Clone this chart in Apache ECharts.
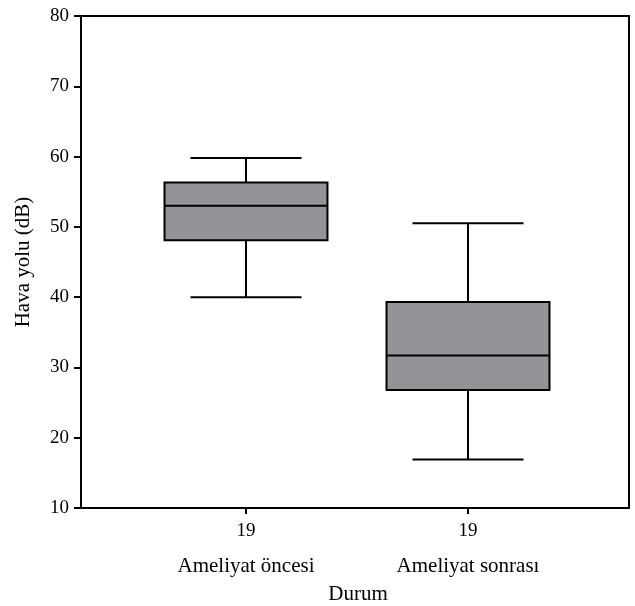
<!DOCTYPE html>
<html><head><meta charset="utf-8">
<script src="https://cdn.jsdelivr.net/npm/echarts@6/dist/echarts.min.js"></script>
<style>html,body{margin:0;padding:0;background:#fff}#c{width:635px;height:606px}</style>
</head><body><div id="c"></div>
<script>
const categories = ['Ameliyat öncesi', 'Ameliyat sonrası'];
const counts = [19, 19];
const whiskerLow = [40.0, 16.9];
const q1 = [48.1, 26.8];
const median = [53.0, 31.7];
const q3 = [56.3, 39.3];
const whiskerHigh = [59.8, 50.5];
const yTicks = {min: 10, max: 80, interval: 10};

const FONT = 'Liberation Serif';
const FS = 19;   // numbers
const FT = 21;   // words
const data = categories.map((c, i) => [i, whiskerLow[i], q1[i], median[i], q3[i], whiskerHigh[i]]);

const chart = echarts.init(document.getElementById('c'));
chart.setOption({
  animation: false,
  grid: [
    {left: 81, right: 6, top: 16, bottom: 98, show: true, borderColor: '#000', borderWidth: 2, backgroundColor: 'transparent', containLabel: false, outerBoundsMode: 'none'},
    {left: 135, width: 444, top: 16, bottom: 98, containLabel: false, outerBoundsMode: 'none'}
  ],
  xAxis: [
    {gridIndex: 0, type: 'value', min: 0, max: 1, axisLine: {show: true, lineStyle: {color: '#000', width: 2}},
     axisTick: {show: false}, axisLabel: {show: false}, splitLine: {show: false},
     name: 'Durum', nameLocation: 'middle', nameGap: 76, nameTextStyle: {fontFamily: FONT, fontSize: FT, color: '#000', padding: [0, 0, 0, 6]}},
    {gridIndex: 1, type: 'category', data: categories, boundaryGap: true,
     axisLine: {show: false}, axisTick: {show: true, alignWithLabel: true, length: 6, lineStyle: {color: '#000', width: 2}},
     axisLabel: {margin: 14, fontFamily: FONT, fontSize: FS, color: '#000', formatter: (v, i) => String(counts[i])}},
    {gridIndex: 1, type: 'category', data: categories, boundaryGap: true, position: 'bottom',
     axisLine: {show: false}, axisTick: {show: false},
     axisLabel: {margin: 48, fontFamily: FONT, fontSize: FT, color: '#000'}}
  ],
  yAxis: [
    {gridIndex: 0, type: 'value', min: yTicks.min, max: yTicks.max, interval: yTicks.interval,
     axisLine: {show: true, lineStyle: {color: '#000', width: 2}},
     axisTick: {show: true, length: 7, lineStyle: {color: '#000', width: 2}},
     axisLabel: {margin: 12, fontFamily: FONT, fontSize: FS, color: '#000'},
     splitLine: {show: false},
     name: 'Hava yolu (dB)', nameLocation: 'middle', nameGap: 47, nameRotate: 90,
     nameTextStyle: {fontFamily: FONT, fontSize: FT, color: '#000'}},
    {gridIndex: 1, type: 'value', min: yTicks.min, max: yTicks.max, show: false}
  ],
  series: [{
    type: 'custom', xAxisIndex: 1, yAxisIndex: 1, data: data,
    renderItem: function (params, api) {
      const x = api.value(0);
      const band = api.size([1, 0])[0];
      const bw = band * 0.734 / 2;
      const cw = band * 0.5 / 2;
      const pLo = api.coord([x, api.value(1)]);
      const pQ1 = api.coord([x, api.value(2)]);
      const pMed = api.coord([x, api.value(3)]);
      const pQ3 = api.coord([x, api.value(4)]);
      const pHi = api.coord([x, api.value(5)]);
      const cx = pLo[0];
      const ls = {stroke: '#000', lineWidth: 2};
      return {type: 'group', children: [
        {type: 'line', shape: {x1: cx, y1: pHi[1], x2: cx, y2: pQ3[1]}, style: ls},
        {type: 'line', shape: {x1: cx, y1: pQ1[1], x2: cx, y2: pLo[1]}, style: ls},
        {type: 'line', shape: {x1: cx - cw, y1: pHi[1], x2: cx + cw, y2: pHi[1]}, style: ls},
        {type: 'line', shape: {x1: cx - cw, y1: pLo[1], x2: cx + cw, y2: pLo[1]}, style: ls},
        {type: 'rect', shape: {x: cx - bw, y: pQ3[1], width: 2 * bw, height: pQ1[1] - pQ3[1]}, style: {fill: '#929497', stroke: '#000', lineWidth: 2}},
        {type: 'line', shape: {x1: cx - bw, y1: pMed[1], x2: cx + bw, y2: pMed[1]}, style: ls}
      ]};
    }
  }]
});
</script></body></html>
